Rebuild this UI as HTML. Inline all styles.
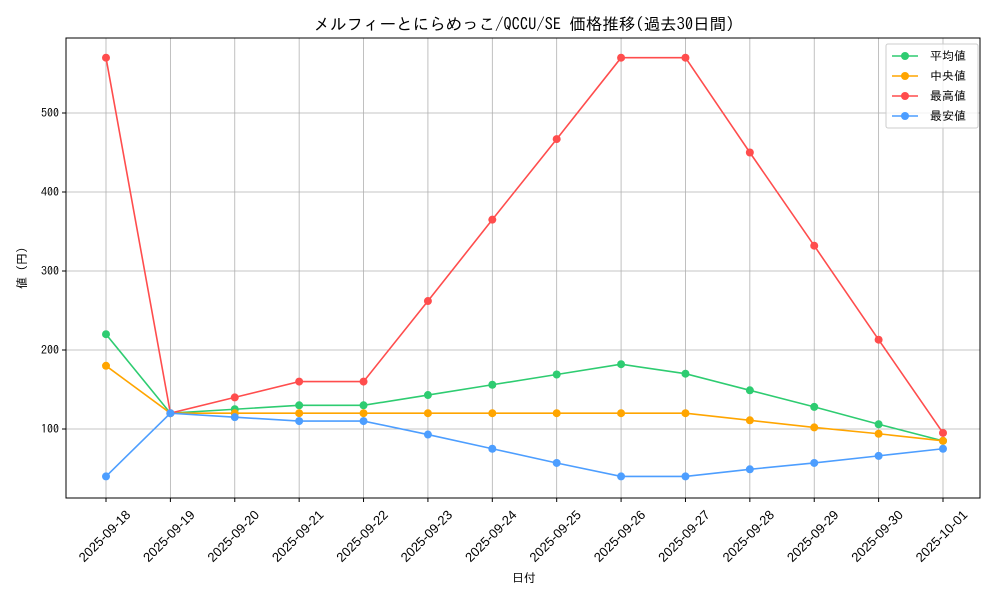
<!DOCTYPE html>
<html><head><meta charset="utf-8"><style>body{margin:0;background:#fff}</style></head><body>
<svg width="1000" height="600" xmlns="http://www.w3.org/2000/svg" font-family="IPAGothic, 'Liberation Sans', 'Noto Sans CJK JP', sans-serif">
<rect width="1000" height="600" fill="#fff"/>
<g id="grid" stroke="#b0b0b0" stroke-width="0.8"></g>
<rect x="66" y="38" width="914" height="460" fill="none" stroke="#000" stroke-width="1"/>
<g id="ticks" font-size="12" fill="#000"></g>
<g id="series"></g>
<text x="524" y="30" font-size="16.5" text-anchor="middle">メルフィーとにらめっこ/QCCU/SE 価格推移(過去30日間)</text>
<text x="524" y="582" font-size="12" text-anchor="middle">日付</text>
<text transform="translate(26,268) rotate(-90)" font-size="12" text-anchor="middle">値 (円)</text>
<g>
<rect x="886" y="44" width="92" height="84" fill="#fff" fill-opacity="0.8" stroke="#ccc" rx="2"/>
<line x1="892" y1="56" x2="918" y2="56" stroke="#2ecc71" stroke-width="1.5"/><circle cx="905" cy="56" r="4" fill="#2ecc71"/><text x="930" y="60" font-size="12">平均値</text>
<line x1="892" y1="76" x2="918" y2="76" stroke="#ffa500" stroke-width="1.5"/><circle cx="905" cy="76" r="4" fill="#ffa500"/><text x="930" y="80" font-size="12"> 中央値</text>
<line x1="892" y1="96" x2="918" y2="96" stroke="#ff4d4d" stroke-width="1.5"/><circle cx="905" cy="96" r="4" fill="#ff4d4d"/><text x="930" y="100" font-size="12">最高値</text>
<line x1="892" y1="116" x2="918" y2="116" stroke="#4d9eff" stroke-width="1.5"/><circle cx="905" cy="116" r="4" fill="#4d9eff"/><text x="930" y="120" font-size="12">最安値</text>
</g>
</svg>
<script>
const ns="http://www.w3.org/2000/svg";
const X=i=>106+i*(943-106)/13, Y=v=>429-(v-100)*0.79;
const g=document.getElementById('grid'),t=document.getElementById('ticks'),s=document.getElementById('series');
function el(p,n,a,txt){const e=document.createElementNS(ns,n);for(const k in a)e.setAttribute(k,a[k]);if(txt!==undefined)e.textContent=txt;p.appendChild(e);return e;}
const dates=["2025-09-18","2025-09-19","2025-09-20","2025-09-21","2025-09-22","2025-09-23","2025-09-24","2025-09-25","2025-09-26","2025-09-27","2025-09-28","2025-09-29","2025-09-30","2025-10-01"];
dates.forEach((d,i)=>{const x=X(i);el(g,'line',{x1:x,x2:x,y1:38,y2:498});el(t,'line',{x1:x,x2:x,y1:498,y2:502,stroke:'#000'});
const cx=x-1.5,cy=536;
el(t,'text',{x:cx,y:cy+4.5,'text-anchor':'middle','font-size':13,'font-family':"'Liberation Sans Narrow','Liberation Sans',sans-serif",transform:`rotate(-45 ${cx} ${cy})`},d);});
[100,200,300,400,500].forEach(v=>{const y=Y(v);el(g,'line',{x1:66,x2:980,y1:y,y2:y});el(t,'line',{x1:62,x2:66,y1:y,y2:y,stroke:'#000'});el(t,'text',{x:59,y:y+4,'text-anchor':'end'},v);});
const data=[
["#2ecc71",[220,120,125,130,130,143,156,169,182,170,149,128,106,85]],
["#ffa500",[180,120,120,120,120,120,120,120,120,120,111,102,94,85]],
["#ff4d4d",[570,120,140,160,160,262,365,467,570,570,450,332,213,95]],
["#4d9eff",[40,120,115,110,110,93,75,57,40,40,49,57,66,75]]];
data.forEach(([c,v])=>{el(s,'polyline',{points:v.map((a,i)=>X(i)+','+Y(a)).join(' '),fill:'none',stroke:c,'stroke-width':1.6});
v.forEach((a,i)=>el(s,'circle',{cx:X(i),cy:Y(a),r:4,fill:c}));});
</script>
</body></html>
